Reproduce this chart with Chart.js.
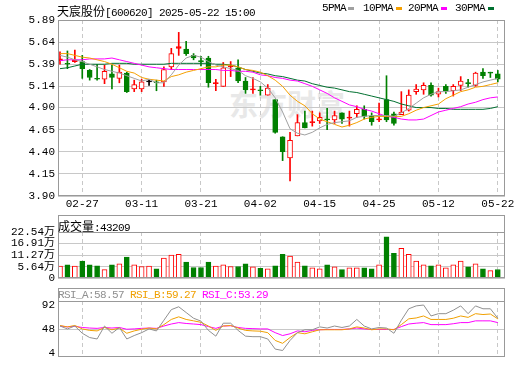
<!DOCTYPE html>
<html>
<head>
<meta charset="utf-8">
<script src="https://cdn.jsdelivr.net/npm/chart.js@4.4.0/dist/chart.umd.min.js"></script>
<style>
body { margin: 0; background: #fff; }
#wrap { position: relative; width: 520px; height: 365px; overflow: hidden; }
canvas { position: absolute; left: 0; }
.t { position: absolute; white-space: nowrap; line-height: 12px; font: 11px "Liberation Mono", monospace; letter-spacing: -0.6px; color: #000; }
.c { font: 12px "Noto Sans CJK SC"; letter-spacing: 0; }
.sw { position: absolute; width: 6px; height: 3px; }
#wm { position: absolute; left: 229px; top: 88px; font: bold 29px/30px "Noto Sans CJK SC"; color: #e8e8e8; }
</style>
</head>
<body>
<div id="wrap">
  <div id="wm">东方财富</div>
  <canvas id="mainChart" width="520" height="215" style="top:0"></canvas>
  <canvas id="volChart" width="520" height="76" style="top:212px"></canvas>
  <canvas id="rsiChart" width="520" height="80" style="top:285px"></canvas>

  <div class="t" style="left:57px;top:2px"><span class="c">天宸股份</span>[600620] 2025-05-22 15:00</div>
  <div class="t" style="left:322px;top:2px">5PMA</div><div class="sw" style="left:348px;top:7px;background:#a0a0a0"></div>
  <div class="t" style="left:363px;top:2px">10PMA</div><div class="sw" style="left:396px;top:7px;background:#f5a000"></div>
  <div class="t" style="left:408px;top:2px">20PMA</div><div class="sw" style="left:441px;top:7px;background:#ff00ff"></div>
  <div class="t" style="left:455px;top:2px">30PMA</div><div class="sw" style="left:488px;top:7px;background:#007030"></div>

  <div class="t" style="left:58px;top:217px"><span class="c">成交量</span>:43209</div>
  <div class="t" style="left:58px;top:289px;color:#909090">RSI_A:58.57</div>
  <div class="t" style="left:130px;top:289px;color:#f0a000">RSI_B:59.27</div>
  <div class="t" style="left:202px;top:289px;color:#ff00ff">RSI_C:53.29</div>
</div>
<script>
// trading days shown
const dates = ['02-24','02-25','02-26','02-27','02-28','03-03','03-04','03-05','03-06','03-07',
  '03-10','03-11','03-12','03-13','03-14','03-17','03-18','03-19','03-20','03-21',
  '03-24','03-25','03-26','03-27','03-28','03-31','04-01','04-02','04-03','04-07',
  '04-08','04-09','04-10','04-11','04-14','04-15','04-16','04-17','04-18','04-21',
  '04-22','04-23','04-24','04-25','04-28','04-29','04-30','05-06','05-07','05-08',
  '05-09','05-12','05-13','05-14','05-15','05-16','05-19','05-20','05-21','05-22'];
const tickLabels = ['02-27','03-11','03-21','04-02','04-15','04-25','05-12','05-22'];
const priceTicks = [3.90, 4.15, 4.40, 4.65, 4.90, 5.14, 5.39, 5.64, 5.89];
const volTicks = [0, 5.64, 11.27, 16.91, 22.54];
const rsiTicks = [4, 48, 92];

const opens = [5.43,5.40,5.42,5.42,5.32,5.23,5.22,5.28,5.23,5.29, 5.11,5.11,5.19,5.19,5.19,5.36,5.57,5.56,5.49,5.43,
  5.46,5.17,5.14,5.36,5.35,5.20,5.10,5.10,5.04,4.99, 4.57,4.33,4.58,4.73,4.73,4.75,4.77,4.76,4.84,4.78,
  4.83,4.88,4.80,4.76,4.99,4.83,4.82,4.87,5.08,5.10, 5.15,5.05,5.14,5.09,5.15,5.18,5.15,5.30,5.30,5.28];
const highs = [5.53,5.54,5.55,5.49,5.33,5.39,5.38,5.38,5.38,5.30, 5.21,5.22,5.22,5.21,5.36,5.57,5.75,5.65,5.51,5.48,
  5.48,5.22,5.41,5.42,5.44,5.24,5.24,5.14,5.16,4.99, 4.57,4.62,4.82,4.86,4.86,4.84,4.89,4.86,4.84,4.86,
  4.92,4.92,4.84,4.95,5.26,4.85,5.08,5.10,5.16,5.18, 5.18,5.12,5.16,5.16,5.25,5.22,5.30,5.34,5.30,5.32];
const lows = [5.39,5.34,5.41,5.23,5.21,5.21,5.17,5.11,5.18,5.07, 5.08,5.08,5.15,5.09,5.14,5.33,5.49,5.49,5.44,5.37,
  5.13,5.09,5.14,5.25,5.18,5.06,5.06,5.04,5.04,4.61, 4.30,4.07,4.58,4.67,4.69,4.72,4.65,4.72,4.72,4.69,
  4.79,4.77,4.70,4.74,4.74,4.70,4.82,4.86,5.05,5.05, 5.03,5.02,5.06,5.03,5.09,5.13,5.14,5.23,5.24,5.19];
const closes = [5.45,5.39,5.44,5.34,5.24,5.22,5.31,5.24,5.30,5.08, 5.16,5.19,5.19,5.18,5.33,5.51,5.59,5.51,5.46,5.42,
  5.18,5.18,5.35,5.37,5.20,5.10,5.11,5.09,5.12,4.62, 4.40,4.53,4.73,4.67,4.74,4.79,4.76,4.81,4.77,4.79,
  4.88,4.80,4.74,4.77,4.76,4.72,4.85,5.04,5.11,5.15, 5.04,5.08,5.09,5.14,5.20,5.17,5.29,5.26,5.29,5.22];

const ma5 = [5.49,5.47,5.44,5.42,5.39,5.36,5.33,5.31,5.29,5.26, 5.23,5.20,5.22,5.18,5.18,5.27,5.38,5.46,5.49,5.47,
  5.42,5.38,5.36,5.34,5.32,5.26,5.23,5.19,5.12,5.01, 4.85,4.66,4.61,4.59,4.62,4.67,4.71,4.73,4.74,4.75,
  4.79,4.80,4.81,4.81,4.81,4.80,4.84,4.89,4.95,5.01, 5.05,5.08,5.08,5.09,5.10,5.13,5.16,5.19,5.21,5.23];
const ma10 = [5.51,5.51,5.49,5.47,5.46,5.44,5.42,5.39,5.35,5.31, 5.29,5.24,5.22,5.21,5.20,5.25,5.27,5.30,5.32,5.34,
  5.36,5.36,5.38,5.38,5.36,5.33,5.32,5.30,5.26,5.21, 5.14,5.04,4.97,4.92,4.83,4.77,4.74,4.71,4.68,4.70,
  4.73,4.77,4.79,4.80,4.80,4.80,4.80,4.83,4.87,4.90, 4.92,4.94,5.00,5.04,5.08,5.10,5.13,5.14,5.16,5.18];
const ma20 = [5.43,5.44,5.44,5.44,5.45,5.45,5.45,5.46,5.44,5.42, 5.40,5.38,5.36,5.35,5.34,5.33,5.33,5.33,5.33,5.33,
  5.33,5.33,5.32,5.32,5.31,5.31,5.30,5.27,5.26,5.24, 5.23,5.21,5.20,5.17,5.14,5.10,5.06,5.01,4.97,4.93,
  4.91,4.88,4.86,4.83,4.80,4.79,4.77,4.76,4.76,4.77, 4.81,4.85,4.87,4.89,4.91,4.94,4.96,4.99,5.01,5.02];
const ma30 = [5.34,5.35,5.37,5.39,5.39,5.39,5.39,5.40,5.40,5.40, 5.39,5.39,5.39,5.39,5.39,5.40,5.40,5.40,5.40,5.40,
  5.40,5.39,5.39,5.38,5.36,5.33,5.31,5.29,5.28,5.26, 5.25,5.23,5.21,5.20,5.17,5.15,5.13,5.12,5.10,5.08,
  5.07,5.05,5.03,5.01,4.99,4.97,4.94,4.92,4.90,4.90, 4.90,4.89,4.89,4.88,4.88,4.88,4.88,4.88,4.89,4.91];

// volume in 万, with up/down flag (vs previous close)
const volumes = [5.96,6.57,5.96,8.45,6.57,6.10,4.23,6.57,7.04,10.33, 6.57,5.78,5.96,4.70,9.86,11.27,11.74,7.98,5.31,5.31,
  7.98,5.96,6.57,5.78,5.78,7.04,5.64,4.84,4.70,6.10, 11.74,10.80,7.98,6.10,5.17,4.70,6.57,5.64,4.23,5.17,
  5.17,5.17,4.70,6.57,20.19,12.21,14.56,11.74,8.45,6.57, 6.10,6.57,5.17,6.57,8.45,5.64,7.04,4.70,3.76,4.32];
const volUp = [1,0,1,0,0,0,1,0,1,0, 1,1,1,0,1,1,1,0,0,0, 0,1,1,1,0,0,1,0,1,0,
  0,1,1,0,1,1,0,1,0,1, 1,0,0,1,0,0,1,1,1,1, 0,1,1,1,1,0,1,0,1,0];

const rsiA = [54,48.7,54,40.7,32.8,30.2,54,40.7,51.3,30.2, 36.5,41.8,48.7,45,64.6,84.1,89.4,78.8,68.3,63,
  46,35.4,59.2,59.2,46,35.4,34.4,34.4,30.2,11.6, 9,27.5,41.8,47.1,47.1,52.4,50.3,54,51.3,54,
  66.1,54,48.7,51.3,50.3,40.7,64.6,85.7,91,92.6, 72.5,76.7,76.7,83.1,91,76.7,91,85.7,85.7,68.3];
const rsiB = [55,52.4,55,48.7,46,45,51.3,47.1,50.3,40.7, 45,48.1,50.3,48.7,56.6,66.1,70.9,66.1,63.5,60.8,
  54,46,54,55,50.3,46,45,44.5,41.8,27.5, 22.2,32.8,41.8,39.7,43.4,47.1,47.1,47.1,47.1,48.7,
  52.4,50.3,47.1,48.7,48.7,47.1,56.6,67.2,68.8,72.5, 66.1,66.1,66.1,68.3,72.5,69.9,76.7,75.1,76.1,67.2];
const rsiC = [54,52.4,53.5,51.3,50.3,49.7,51.3,50.3,51.3,48.1, 48.7,49.7,50.3,49.7,54,57.7,60.3,58.7,57.7,56.6,
  52.9,49.7,54,54.5,51.3,49.7,49.2,48.7,48.7,41.8, 36.5,39.7,45,43.4,46,47.1,47.7,47.7,47.7,48.7,
  50.3,48.7,47.7,47.7,47.7,47.7,52.9,57.7,59.2,60.3, 56.6,56.6,56.6,58.2,60.3,60.3,63.5,63.5,63.5,60.3];

const UP = '#ff0000', DOWN = '#008000', GRID = '#c8c8c8';
const tickIdx = tickLabels.map(d => dates.indexOf(d));

Chart.defaults.font.family = "'Liberation Mono','Noto Sans CJK SC',monospace";
Chart.defaults.font.size = 11;
Chart.defaults.color = '#000';

// box around the plot (and its header strip)
const framePlugin = {
  id: 'frame',
  afterDraw(chart, args, opts) {
    const { ctx, chartArea: a } = chart;
    const head = opts.head || 0, foot = opts.foot || 0;
    const l = Math.round(a.left) + 0.5, r = Math.round(a.right) - 0.5;
    const t = Math.round(a.top - head) + 0.5, b = Math.round(a.bottom + foot) - 0.5;
    ctx.save();
    ctx.strokeStyle = '#999';
    ctx.lineWidth = 1;
    ctx.strokeRect(l, t, r - l, b - t);
    if (head) {
      ctx.beginPath();
      ctx.moveTo(l, Math.round(a.top) + 0.5);
      ctx.lineTo(r, Math.round(a.top) + 0.5);
      ctx.stroke();
    }
    ctx.restore();
  }
};

function xAxis(showLabels) {
  return {
    type: 'linear', min: -0.27, max: 59.97, offset: false,
    afterBuildTicks: a => { a.ticks = tickIdx.map(v => ({ value: v })); },
    afterFit: a => { a.height = showLabels ? 19 : 0; },
    grid: { color: GRID, drawTicks: false, offset: false },
    border: { display: false, dash: [4, 3] },
    ticks: { display: showLabels, padding: 1, maxRotation: 0, autoSkip: false, callback: v => dates[v] }
  };
}

function yAxis(min, max, ticks, fmt, gridColor) {
  return {
    min: min, max: max,
    afterBuildTicks: a => { a.ticks = ticks.map(v => ({ value: v })); },
    afterFit: a => { a.width = 58; },
    grid: { color: gridColor, drawTicks: false },
    border: { display: false },
    ticks: { padding: 3, autoSkip: false, callback: fmt }
  };
}

const pts = arr => arr.map((v, i) => ({ x: i, y: v }));
const maLine = (data, color) => ({
  type: 'line', data: pts(data), borderColor: color, borderWidth: 1,
  pointRadius: 0, tension: 0, order: 0
});

const candleColor = closes.map((c, i) => c > opens[i] ? UP : (c < opens[i] ? DOWN : '#000000'));
const bodyFill = closes.map((c, i) => (c - opens[i] > 0.025) ? '#ffffff' : candleColor[i]);

const baseOpts = {
  responsive: false,
  animation: false,
  events: [],
  plugins: { legend: { display: false }, tooltip: { enabled: false } }
};

new Chart(document.getElementById('mainChart'), {
  type: 'bar',
  data: {
    datasets: [
      maLine(ma5, '#a0a0a0'),
      maLine(ma10, '#f5a000'),
      maLine(ma20, '#ff00ff'),
      maLine(ma30, '#007030'),
      {
        data: opens.map((o, i) => ({ x: i, y: [o, closes[i]] })),
        backgroundColor: bodyFill, borderColor: candleColor, borderWidth: 1,
        borderSkipped: false, barThickness: 5, grouped: false, minBarLength: 1, order: 1
      },
      {
        data: lows.map((l, i) => ({ x: i, y: [l, highs[i]] })),
        backgroundColor: candleColor, borderWidth: 0,
        barThickness: 1, grouped: false, order: 2
      }
    ]
  },
  options: Object.assign({}, baseOpts, {
    layout: { autoPadding: false, padding: { top: 20, right: 15, left: 0, bottom: 0 } },
    scales: {
      x: xAxis(true),
      y: yAxis(3.90, 5.89, priceTicks, v => v.toFixed(2), GRID)
    },
    plugins: Object.assign({}, baseOpts.plugins, { frame: { head: 0 } })
  }),
  plugins: [framePlugin]
});

new Chart(document.getElementById('volChart'), {
  type: 'bar',
  data: {
    datasets: [{
      data: pts(volumes),
      backgroundColor: volUp.map(u => u ? '#ffffff' : DOWN),
      borderColor: volUp.map(u => u ? UP : DOWN),
      borderWidth: 1, borderSkipped: false, barThickness: 5, grouped: false
    }]
  },
  options: Object.assign({}, baseOpts, {
    layout: { autoPadding: false, padding: { top: 20, right: 15, left: 0, bottom: 8 } },
    scales: {
      x: xAxis(false),
      y: yAxis(0, 22.54, volTicks, v => v === 0 ? '0' : v.toFixed(2) + '万', GRID)
    },
    plugins: Object.assign({}, baseOpts.plugins, { frame: { head: 17 } })
  }),
  plugins: [framePlugin]
});

new Chart(document.getElementById('rsiChart'), {
  type: 'line',
  data: {
    datasets: [
      { data: pts(rsiA), borderColor: '#909090', borderWidth: 1, pointRadius: 0, tension: 0 },
      { data: pts(rsiB), borderColor: '#f0a000', borderWidth: 1, pointRadius: 0, tension: 0 },
      { data: pts(rsiC), borderColor: '#ff00ff', borderWidth: 1, pointRadius: 0, tension: 0 }
    ]
  },
  options: Object.assign({}, baseOpts, {
    layout: { autoPadding: false, padding: { top: 16, right: 15, left: 0, bottom: 3 } },
    scales: {
      x: xAxis(false),
      y: yAxis(0, 100, rsiTicks, v => String(v),
        ctx => (ctx.tick && ctx.tick.value === 48) ? GRID : 'rgba(0,0,0,0)')
    },
    plugins: Object.assign({}, baseOpts.plugins, { frame: { head: 13, foot: 2 } })
  }),
  plugins: [framePlugin]
});
</script>
</body>
</html>
